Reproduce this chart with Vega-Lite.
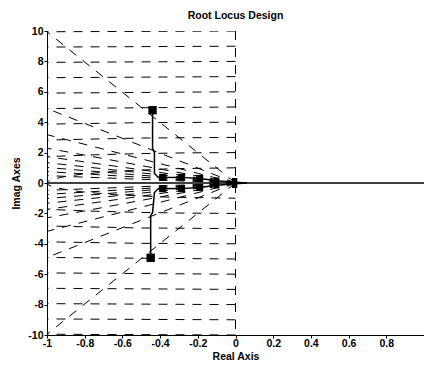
{
  "$schema": "https://vega.github.io/schema/vega-lite/v6.json",
  "width": 377,
  "height": 304,
  "autosize": {"type": "none"},
  "padding": {"left": 47, "top": 31, "right": 0, "bottom": 32},
  "background": "white",
  "title": {"text": "Root Locus Design", "fontSize": 10.5, "font": "Liberation Sans", "fontWeight": "bold", "color": "black", "offset": 5, "anchor": "middle"},
  "config": {
    "view": {"stroke": null},
    "axis": {
      "domainColor": "black", "domainWidth": 1, "tickColor": "black", "tickSize": 3, "grid": false,
      "labelFont": "Liberation Sans", "labelFontSize": 10.5, "labelFontWeight": "bold", "labelColor": "black",
      "titleFont": "Liberation Sans", "titleFontSize": 10.5, "titleColor": "black", "titleFontWeight": "bold",
      "labelFlush": false, "labelOverlap": false
    }
  },
  "datasets": {
    "grid": [
      {"g":"z1p","i":0,"x":0,"y":0},{"g":"z1p","i":1,"x":-1,"y":9.95},
      {"g":"z1n","i":0,"x":0,"y":0},{"g":"z1n","i":1,"x":-1,"y":-9.95},
      {"g":"z2p","i":0,"x":0,"y":0},{"g":"z2p","i":1,"x":-1,"y":4.899},
      {"g":"z2n","i":0,"x":0,"y":0},{"g":"z2n","i":1,"x":-1,"y":-4.899},
      {"g":"z3p","i":0,"x":0,"y":0},{"g":"z3p","i":1,"x":-1,"y":3.18},
      {"g":"z3n","i":0,"x":0,"y":0},{"g":"z3n","i":1,"x":-1,"y":-3.18},
      {"g":"z4p","i":0,"x":0,"y":0},{"g":"z4p","i":1,"x":-1,"y":2.291},
      {"g":"z4n","i":0,"x":0,"y":0},{"g":"z4n","i":1,"x":-1,"y":-2.291},
      {"g":"z5p","i":0,"x":0,"y":0},{"g":"z5p","i":1,"x":-1,"y":1.732},
      {"g":"z5n","i":0,"x":0,"y":0},{"g":"z5n","i":1,"x":-1,"y":-1.732},
      {"g":"z6p","i":0,"x":0,"y":0},{"g":"z6p","i":1,"x":-1,"y":1.333},
      {"g":"z6n","i":0,"x":0,"y":0},{"g":"z6n","i":1,"x":-1,"y":-1.333},
      {"g":"z7p","i":0,"x":0,"y":0},{"g":"z7p","i":1,"x":-1,"y":1.02},
      {"g":"z7n","i":0,"x":0,"y":0},{"g":"z7n","i":1,"x":-1,"y":-1.02},
      {"g":"z8p","i":0,"x":0,"y":0},{"g":"z8p","i":1,"x":-1,"y":0.75},
      {"g":"z8n","i":0,"x":0,"y":0},{"g":"z8n","i":1,"x":-1,"y":-0.75},
      {"g":"z9p","i":0,"x":0,"y":0},{"g":"z9p","i":1,"x":-1,"y":0.484},
      {"g":"z9n","i":0,"x":0,"y":0},{"g":"z9n","i":1,"x":-1,"y":-0.484},
      {"g":"im","i":0,"x":0,"y":10},{"g":"im","i":1,"x":0,"y":-10},
      {"g":"w1","i":0,"x":0,"y":1},{"g":"w1","i":1,"x":-0.342,"y":0.94},{"g":"w1","i":2,"x":-0.643,"y":0.766},{"g":"w1","i":3,"x":-0.819,"y":0.574},{"g":"w1","i":4,"x":-0.906,"y":0.423},{"g":"w1","i":5,"x":-0.966,"y":0.259},{"g":"w1","i":6,"x":-0.993,"y":0.122},{"g":"w1","i":7,"x":-1,"y":0},{"g":"w1","i":8,"x":-0.993,"y":-0.122},{"g":"w1","i":9,"x":-0.966,"y":-0.259},{"g":"w1","i":10,"x":-0.906,"y":-0.423},{"g":"w1","i":11,"x":-0.819,"y":-0.574},{"g":"w1","i":12,"x":-0.643,"y":-0.766},{"g":"w1","i":13,"x":-0.342,"y":-0.94},{"g":"w1","i":14,"x":0,"y":-1},
      {"g":"w2p","i":0,"x":0,"y":2},{"g":"w2p","i":1,"x":-0.25,"y":1.984},{"g":"w2p","i":2,"x":-0.5,"y":1.936},{"g":"w2p","i":3,"x":-0.75,"y":1.854},{"g":"w2p","i":4,"x":-1,"y":1.732},
      {"g":"w2n","i":0,"x":0,"y":-2},{"g":"w2n","i":1,"x":-0.25,"y":-1.984},{"g":"w2n","i":2,"x":-0.5,"y":-1.936},{"g":"w2n","i":3,"x":-0.75,"y":-1.854},{"g":"w2n","i":4,"x":-1,"y":-1.732},
      {"g":"w3p","i":0,"x":0,"y":3},{"g":"w3p","i":1,"x":-0.5,"y":2.958},{"g":"w3p","i":2,"x":-1,"y":2.828},
      {"g":"w3n","i":0,"x":0,"y":-3},{"g":"w3n","i":1,"x":-0.5,"y":-2.958},{"g":"w3n","i":2,"x":-1,"y":-2.828},
      {"g":"w4p","i":0,"x":0,"y":4},{"g":"w4p","i":1,"x":-0.5,"y":3.969},{"g":"w4p","i":2,"x":-1,"y":3.873},
      {"g":"w4n","i":0,"x":0,"y":-4},{"g":"w4n","i":1,"x":-0.5,"y":-3.969},{"g":"w4n","i":2,"x":-1,"y":-3.873},
      {"g":"w5p","i":0,"x":0,"y":5},{"g":"w5p","i":1,"x":-1,"y":4.899},
      {"g":"w5n","i":0,"x":0,"y":-5},{"g":"w5n","i":1,"x":-1,"y":-4.899},
      {"g":"w6p","i":0,"x":0,"y":6},{"g":"w6p","i":1,"x":-1,"y":5.916},
      {"g":"w6n","i":0,"x":0,"y":-6},{"g":"w6n","i":1,"x":-1,"y":-5.916},
      {"g":"w7p","i":0,"x":0,"y":7},{"g":"w7p","i":1,"x":-1,"y":6.928},
      {"g":"w7n","i":0,"x":0,"y":-7},{"g":"w7n","i":1,"x":-1,"y":-6.928},
      {"g":"w8p","i":0,"x":0,"y":8},{"g":"w8p","i":1,"x":-1,"y":7.937},
      {"g":"w8n","i":0,"x":0,"y":-8},{"g":"w8n","i":1,"x":-1,"y":-7.937},
      {"g":"w9p","i":0,"x":0,"y":9},{"g":"w9p","i":1,"x":-1,"y":8.944},
      {"g":"w9n","i":0,"x":0,"y":-9},{"g":"w9n","i":1,"x":-1,"y":-8.944},
      {"g":"w10p","i":0,"x":0,"y":10},{"g":"w10p","i":1,"x":-1,"y":9.95},
      {"g":"w10n","i":0,"x":0,"y":-10},{"g":"w10n","i":1,"x":-1,"y":-9.95}
    ],
    "locus": [
      {"b":"up","i":0,"x":-0.44,"y":4.79},{"b":"up","i":1,"x":-0.44,"y":2.28},{"b":"up","i":2,"x":-0.43,"y":2.0},{"b":"up","i":3,"x":-0.43,"y":0.63},{"b":"up","i":4,"x":-0.41,"y":0.38},{"b":"up","i":5,"x":-0.29,"y":0.37},{"b":"up","i":6,"x":-0.19,"y":0.3},{"b":"up","i":7,"x":-0.1,"y":0.15},{"b":"up","i":8,"x":0,"y":0.05},{"b":"up","i":9,"x":0.06,"y":0},
      {"b":"dn","i":0,"x":-0.45,"y":-4.92},{"b":"dn","i":1,"x":-0.45,"y":-2.15},{"b":"dn","i":2,"x":-0.44,"y":-1.95},{"b":"dn","i":3,"x":-0.43,"y":-0.63},{"b":"dn","i":4,"x":-0.41,"y":-0.38},{"b":"dn","i":5,"x":-0.29,"y":-0.37},{"b":"dn","i":6,"x":-0.19,"y":-0.3},{"b":"dn","i":7,"x":-0.1,"y":-0.15},{"b":"dn","i":8,"x":0,"y":-0.05},{"b":"dn","i":9,"x":0.06,"y":0},
      {"b":"re","i":0,"x":-1,"y":0},{"b":"re","i":1,"x":1,"y":0}
    ],
    "marks": [
      {"k":"pole","x":-0.44,"y":4.79},{"k":"pole","x":-0.45,"y":-4.92},
      {"k":"cl","x":-0.386,"y":0.37},{"k":"cl","x":-0.286,"y":0.37},{"k":"cl","x":-0.386,"y":-0.37},{"k":"cl","x":-0.286,"y":-0.37},
      {"k":"cl","x":-0.19,"y":0.3},{"k":"cl","x":-0.19,"y":-0.3},
      {"k":"blob","x":-0.1,"y":0.18},{"k":"blob","x":-0.1,"y":-0.18},{"k":"blob","x":-0.005,"y":0.15},{"k":"blob","x":-0.005,"y":-0.15}
    ]
  },
  "encoding": {
    "x": {"field": "x", "type": "quantitative", "scale": {"domain": [-1, 1], "nice": false, "zero": false},
      "axis": {"title": "Real Axis", "values": [-1, -0.8, -0.6, -0.4, -0.2, 0, 0.2, 0.4, 0.6, 0.8], "labelExpr": "'' + datum.value", "labelPadding": 0, "titlePadding": 3}},
    "y": {"field": "y", "type": "quantitative", "scale": {"domain": [-10, 10], "nice": false, "zero": false},
      "axis": {"title": "Imag Axes", "values": [-10, -8, -6, -4, -2, 0, 2, 4, 6, 8, 10], "labelExpr": "'' + datum.value", "labelPadding": 1, "titlePadding": 6}}
  },
  "layer": [
    {"data": {"name": "grid"}, "mark": {"type": "line", "stroke": "black", "strokeWidth": 1, "strokeDash": [9, 8], "clip": true},
      "encoding": {"detail": {"field": "g"}, "order": {"field": "i", "type": "quantitative"}}},
    {"data": {"name": "locus"}, "mark": {"type": "line", "stroke": "black", "strokeWidth": 1.5, "clip": true},
      "encoding": {"detail": {"field": "b"}, "order": {"field": "i", "type": "quantitative"}}},
    {"data": {"name": "marks"}, "mark": {"type": "point", "shape": "square", "filled": true, "color": "black", "opacity": 1},
      "encoding": {"size": {"field": "k", "type": "nominal", "scale": {"domain": ["pole", "cl", "blob"], "range": [70, 30, 70]}, "legend": null}}}
  ]
}
